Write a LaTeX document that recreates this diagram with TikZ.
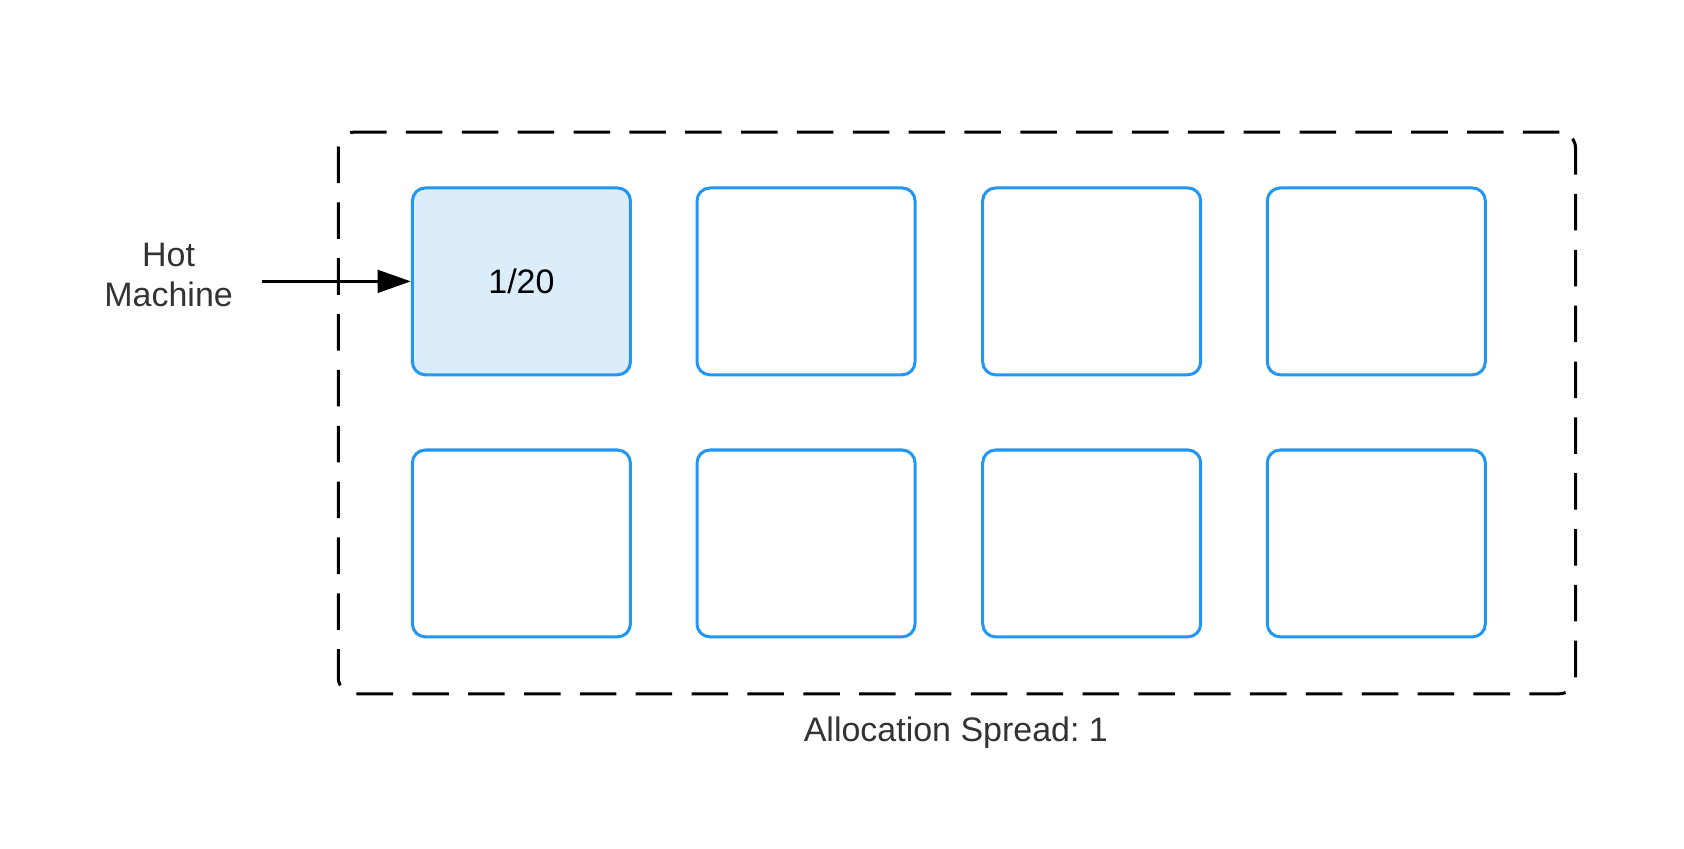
\documentclass[tikz,border=0pt]{standalone}
\usepackage{fontspec}
\setmainfont{Liberation Sans}
\usepackage{tikz}
\usetikzlibrary{arrows.meta}
\usepackage{xcolor}
\definecolor{azul}{HTML}{2196F3}
\definecolor{azulclaro}{HTML}{DBEDFB}
\definecolor{texto}{HTML}{333333}
\frenchspacing

\begin{document}
\begin{tikzpicture}[
        maquina/.style={draw=azul, line width=1.6pt, rounded corners=0.24cm, minimum width=4.06cm, minimum height=3.48cm, font=\fontsize{18}{21}\selectfont},
        rotulo/.style={text=texto, font=\fontsize{18}{21}\selectfont, align=center}
    ]
        \useasboundingbox (0,0) rectangle (31.36,-15.8);

        % Cluster
        \node[draw=black, line width=1.6pt, dash pattern=on 0.68cm off 0.36cm, rounded corners=0.3cm, minimum width=23.04cm, minimum height=10.46cm] (cluster) at (17.82,-7.69) {};

        % Primeira linha
        \node[maquina, fill=azulclaro] (m1) at (9.71,-5.24) {1/20};
        \node[maquina] (m2) at (15.01,-5.24) {};
        \node[maquina] (m3) at (20.33,-5.24) {};
        \node[maquina] (m4) at (25.63,-5.24) {};

        % Segunda linha
        \node[maquina] (m5) at (9.71,-10.12) {};
        \node[maquina] (m6) at (15.01,-10.12) {};
        \node[maquina] (m7) at (20.33,-10.12) {};
        \node[maquina] (m8) at (25.63,-10.12) {};

        \node[rotulo] (hot) at (3.14,-5.12) {Hot\\Machine};
        \coordinate (entrada) at (4.88,-5.24);
        \draw[line width=1.6pt, -{Triangle[length=0.62cm, width=0.42cm]}] (entrada) -- (m1.west);

        \node[rotulo] (spread) at (17.8,-13.64) {Allocation Spread: 1};
    \end{tikzpicture}
\end{document}
